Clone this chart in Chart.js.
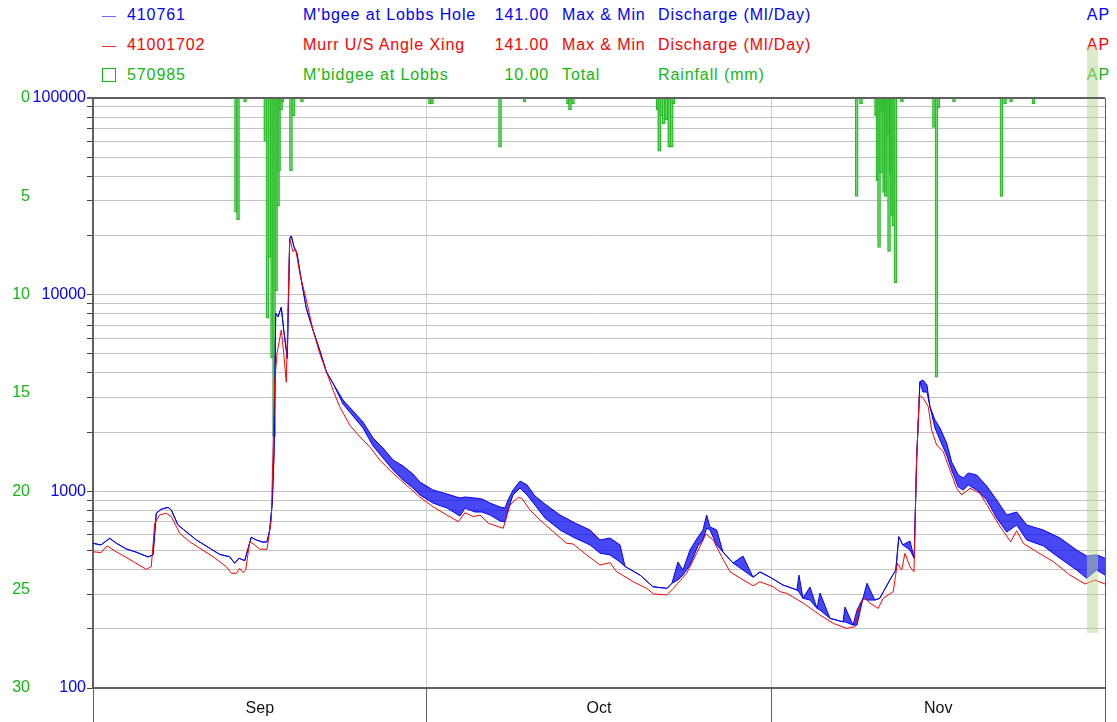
<!DOCTYPE html>
<html>
<head>
<meta charset="utf-8">
<script src="https://cdn.jsdelivr.net/npm/chart.js@4.4.1/dist/chart.umd.min.js"></script>
<style>
html,body{margin:0;padding:0;background:#fff;}
#wrap{position:relative;width:1117px;height:722px;overflow:hidden;font-family:"Liberation Sans",Arial,sans-serif;}
#legend{position:absolute;left:0;top:0;width:1117px;height:96px;z-index:0;}
#legend div{position:absolute;font-size:16px;letter-spacing:0.9px;line-height:18px;white-space:nowrap;}
#legend .ico-line{height:1px;width:14px;}
#legend .ico-box{width:12px;height:12px;border:1px solid;}
canvas{position:absolute;left:0;top:0;z-index:1;}
</style>
</head>
<body>
<div id="wrap">
  <div id="legend"></div>
  <canvas id="c" width="1117" height="722"></canvas>
</div>
<script>
// ---------- data ----------
const monthNames = ['Sep', 'Oct', 'Nov'];
const monthStartDays = [0, 30, 61, 91];          // days since 1 Sep
const dischargeTickLabels = [100, 1000, 10000, 100000];
const rainTickStep = 5;
const rainAxisMax = 30;

// 410761 M'bgee at Lobbs Hole (Max & Min discharge, Ml/Day)
const blueDays = [0.00,0.72,1.50,2.07,2.97,3.87,4.95,5.40,5.69,6.14,6.74,7.04,7.64,8.39,9.29,10.49,11.39,12.29,12.74,13.13,13.64,14.23,14.68,15.29,15.65,15.89,16.12,16.28,16.43,16.64,16.93,17.15,17.47,17.69,17.83,18.07,18.34,18.73,19.18,19.78,20.38,20.98,21.58,22.48,23.38,24.28,25.18,26.08,26.98,27.88,28.77,29.40,30.57,31.83,33.00,33.45,34.35,34.98,35.70,36.60,37.05,37.32,37.77,38.40,39.03,39.74,40.64,41.99,43.34,44.69,45.59,46.49,47.39,47.84,49.19,50.36,51.62,52.06,52.60,53.05,53.68,54.40,54.85,55.18,55.48,56.08,56.65,57.55,58.45,59.35,59.98,60.88,61.77,62.04,63.30,63.48,63.84,64.47,65.10,65.37,66.27,67.44,67.62,68.34,68.70,69.24,69.60,70.30,70.75,71.65,72.19,72.46,72.82,73.46,73.84,74.06,74.36,74.63,74.99,75.26,75.71,76.16,76.76,77.21,77.81,78.26,78.71,79.46,80.36,81.26,82.16,83.06,83.96,85.45,86.95,88.45,89.35,90.25,91.00];
const blueMin = [544,534,577,546,510,491,464,475,774,811,829,804,674,623,566,514,478,465,431,457,444,584,566,551,554,636,872,1566,8040,7727,8627,6613,4748,19350,19880,17530,16230,11875,8527,6613,5232,4058,3542,2780,2415,2099,1700,1477,1284,1142,1040,958,872,822,749,822,785,785,758,707,698,804,958,1040,958,852,732,636,579,534,485,475,437,415,375,327,321,341,354,375,422,528,566,651,636,534,491,432,398,366,389,366,341,334,315,308,286,280,254,249,226,217,217,209,209,286,280,280,286,354,398,588,534,503,457,1443,3609,3200,3200,2694,2099,1824,1530,1284,1052,1016,1077,1016,904,732,621,674,566,528,457,398,362,398,375];
const blueMax = [544,534,577,546,510,491,464,475,774,811,829,804,674,623,566,514,478,465,431,457,444,584,566,551,554,636,872,1566,8040,7727,8627,6613,4748,19350,19880,17530,16230,11875,8527,6613,5232,4058,3542,2912,2562,2251,1867,1661,1443,1345,1225,1115,1016,969,925,936,925,914,872,832,822,904,1016,1128,1077,947,862,758,690,636,566,579,534,415,375,327,321,341,437,398,503,586,636,758,659,636,491,432,469,366,389,366,341,334,315,375,286,326,254,304,226,217,258,209,249,286,341,280,286,354,398,588,534,559,457,1443,3609,3683,3473,2694,2305,2099,1761,1410,1211,1169,1240,1211,1064,904,758,785,674,636,579,503,469,475,457];

// 41001702 Murr U/S Angle Xing (discharge, Ml/Day)
const redDays = [0.00,0.72,1.26,2.07,2.97,3.87,4.79,5.24,5.55,6.00,6.59,7.04,7.80,8.70,9.59,10.79,11.99,12.44,12.89,13.19,13.49,13.73,14.09,14.54,14.99,15.65,16.03,16.33,16.55,16.93,17.15,17.38,17.69,17.98,18.23,18.59,19.18,19.78,20.38,20.98,21.58,22.18,23.08,23.98,24.88,25.78,26.98,28.17,29.38,30.57,31.81,32.85,33.45,34.20,34.80,35.55,36.89,37.50,38.24,38.57,39.29,40.19,41.39,42.59,43.16,44.39,45.59,46.49,47.09,48.58,49.79,50.38,51.59,52.18,53.38,54.28,55.12,55.77,56.53,57.28,58.47,59.37,59.98,61.17,61.77,62.38,63.87,65.37,66.57,67.77,68.52,68.97,69.42,69.87,70.61,71.06,71.96,72.33,72.72,73.01,73.46,73.82,74.06,74.30,74.66,75.11,75.41,75.86,76.46,77.06,77.66,78.11,78.86,79.76,80.66,81.56,82.52,83.06,83.65,84.85,86.35,87.85,89.20,90.10,91.00];
const redValues = [493,488,528,493,462,431,401,414,688,758,774,743,612,554,514,465,414,383,383,406,386,398,554,534,508,508,715,3542,5033,6613,5033,3584,19350,16540,17000,12840,9395,6613,5033,4058,3276,2694,2174,1896,1687,1443,1235,1077,936,835,758,701,779,743,758,688,649,852,932,920,804,715,623,544,540,475,422,434,390,347,321,301,297,321,383,484,607,566,465,390,354,331,347,327,309,303,270,235,213,201,205,270,286,270,254,286,309,431,398,484,414,390,1443,3090,2972,2694,2050,1720,1590,1284,1036,958,1036,977,804,661,554,631,544,493,439,375,338,354,338];

// 570985 M'bidgee at Lobbs (rainfall total, mm)
const rainDays = [12.86,13.04,13.67,15.49,15.69,15.87,16.10,16.28,16.46,16.64,16.73,16.91,17.04,17.80,18.03,18.79,30.30,30.48,36.60,38.80,42.71,42.89,43.16,50.77,50.91,51.09,51.32,51.54,51.81,52.04,52.18,68.67,69.06,70.41,70.54,70.68,70.86,70.99,71.13,71.28,71.42,71.58,71.73,71.85,71.98,72.16,72.74,75.62,75.85,76.03,77.42,81.69,82.01,82.55,84.57];
const rainMm = [5.8,6.2,0.2,2.2,11.2,8.1,13.2,17.2,9.8,5.5,3.7,0.6,0.2,3.7,0.9,0.2,0.3,0.3,2.5,0.2,0.3,0.6,0.3,0.6,2.7,0.9,1.3,1.1,2.5,2.5,0.3,5.0,0.3,0.9,4.2,7.6,3.8,0.7,4.8,5.0,1.9,7.8,3.8,6.0,6.5,9.4,0.2,1.5,14.2,0.5,0.2,5.0,0.3,0.2,0.3];

// highlighted band at the end of the record
const bandStartDay = 89.38;
const bandEndDay = 90.37;
const bandDepthMm = 27.2;

// legend rows
const legendRows = [
  {site:'410761',   name:"M'bgee at Lobbs Hole", code:'141.00', kind:'Max & Min', variable:'Discharge (Ml/Day)', quality:'AP', color:'#0000ff', icon:'line', iconColor:'#6b6bff'},
  {site:'41001702', name:'Murr U/S Angle Xing',  code:'141.00', kind:'Max & Min', variable:'Discharge (Ml/Day)', quality:'AP', color:'#ff0000', icon:'line', iconColor:'#ff2a2a'},
  {site:'570985',   name:"M'bidgee at Lobbs",    code:'10.00',  kind:'Total',     variable:'Rainfall (mm)',      quality:'AP', color:'#12b812', icon:'box',  iconColor:'#12b812'}
];

// ---------- legend (HTML text) ----------
const legendEl = document.getElementById('legend');
legendRows.forEach((r, i) => {
  const top = 6 + i * 30;
  const add = (txt, style) => {
    const d = document.createElement('div');
    d.textContent = txt;
    d.style.cssText = style + ';top:' + top + 'px;color:' + r.color;
    legendEl.appendChild(d);
    return d;
  };
  const ic = document.createElement('div');
  if (r.icon === 'line') {
    ic.className = 'ico-line';
    ic.style.cssText = 'left:102px;top:' + (top + 10) + 'px;background:' + r.iconColor;
  } else {
    ic.className = 'ico-box';
    ic.style.cssText = 'left:102px;top:' + (top + 2) + 'px;border-color:' + r.iconColor;
  }
  legendEl.appendChild(ic);
  add(r.site, 'left:127px');
  add(r.name, 'left:303px');
  add(r.code, 'right:' + (1117 - 549) + 'px');
  add(r.kind, 'left:562px');
  add(r.variable, 'left:658px');
  add(r.quality, 'right:' + (1117 - 1110) + 'px');
});

// ---------- chart ----------
const FONT = '"Liberation Sans", Arial, sans-serif';
const toXY = (xs, ys) => xs.map((x, i) => ({x: x, y: ys[i]}));

const frameAndBandPlugin = {
  id: 'frameAndBand',
  afterDatasetsDraw(chart) {
    const c = chart.ctx, a = chart.chartArea;
    const xs = chart.scales.x, y2 = chart.scales.y2;
    c.save();
    const x0 = xs.getPixelForValue(bandStartDay), x1 = xs.getPixelForValue(bandEndDay);
    const yb = y2.getPixelForValue(bandDepthMm);
    c.fillStyle = 'rgba(185,215,143,0.5)';
    c.fillRect(x0, 47, x1 - x0, yb - 47);
    c.strokeStyle = '#606060';
    c.lineWidth = 2;
    c.beginPath(); c.moveTo(a.left - 6, a.top); c.lineTo(a.right, a.top); c.stroke();
    c.lineWidth = 1;
    c.beginPath(); c.moveTo(a.right + 0.5, a.top); c.lineTo(a.right + 0.5, chart.height); c.stroke();
    c.restore();
  },
  afterDraw(chart) {
    const c = chart.ctx, xs = chart.scales.x, a = chart.chartArea;
    c.save();
    c.font = '16px ' + FONT;
    c.fillStyle = '#111';
    c.textAlign = 'center';
    c.textBaseline = 'middle';
    monthNames.forEach((m, i) => {
      const px = xs.getPixelForValue((monthStartDays[i] + monthStartDays[i + 1]) / 2);
      c.fillText(m, px, a.bottom + 21);
    });
    c.restore();
  }
};

new Chart(document.getElementById('c'), {
  data: {
    datasets: [
      {type:'line', label:'41001702', data: toXY(redDays, redValues), yAxisID:'y',
       borderColor:'#ff0000', borderWidth:1, pointRadius:0, tension:0, order:0},
      {type:'line', label:'410761 min', data: toXY(blueDays, blueMin), yAxisID:'y',
       borderColor:'#0000ff', borderWidth:1, pointRadius:0, tension:0, order:1},
      {type:'line', label:'410761 max', data: toXY(blueDays, blueMax), yAxisID:'y',
       borderColor:'#0000ff', borderWidth:1, pointRadius:0, tension:0, order:1,
       fill:{target:1}, backgroundColor:'rgba(0,0,240,0.72)'},
      {type:'bar', label:'570985', data: toXY(rainDays, rainMm), yAxisID:'y2',
       backgroundColor:'rgba(120,220,120,0.45)', borderColor:'#22b822', borderWidth:1,
       barThickness:3, grouped:false, order:3}
    ]
  },
  options: {
    responsive:false, animation:false, devicePixelRatio:1,
    layout:{padding:{top:98, right:12, bottom:0, left:0}},
    plugins:{legend:{display:false}, tooltip:{enabled:false}},
    scales:{
      x:{type:'linear', min:0, max:91, offset:false, position:'bottom',
         afterBuildTicks: s => { s.ticks = monthStartDays.map(v => ({value:v})); },
         afterFit: s => { s.height = 34; },
         ticks:{display:false},
         grid:{color:'#d0d0d0', tickColor:'#606060', tickLength:34, drawTicks:true, offset:false, lineWidth:1},
         border:{display:true, color:'#606060', width:2}},
      y:{type:'logarithmic', position:'left', weight:0, min:100, max:100000,
         afterBuildTicks: s => {
           const t = [];
           for (let k = 0; k < dischargeTickLabels.length; k++) {
             const base = dischargeTickLabels[k];
             t.push({value: base});
             if (k < dischargeTickLabels.length - 1) {
               for (let m = 2; m <= 9; m++) t.push({value: base * m});
             }
           }
           s.ticks = t;
         },
         afterFit: s => { s.width = 61; },
         ticks:{color:'#0000ff', font:{size:16, family:FONT}, padding:1, autoSkip:false,
                callback: v => dischargeTickLabels.includes(v) ? String(v) : ''},
         grid:{color:'#c2c2c2', tickColor:'#404040', tickLength:6, lineWidth:1},
         border:{display:true, color:'#606060', width:2}},
      y2:{type:'linear', position:'left', weight:1, reverse:true, min:0, max:rainAxisMax,
          afterFit: s => { s.width = 32; },
          ticks:{stepSize:rainTickStep, color:'#12b812', font:{size:16, family:FONT}, padding:2, autoSkip:false},
          grid:{display:false, drawTicks:false},
          border:{display:false}}
    }
  },
  plugins:[frameAndBandPlugin]
});
</script>
</body>
</html>
